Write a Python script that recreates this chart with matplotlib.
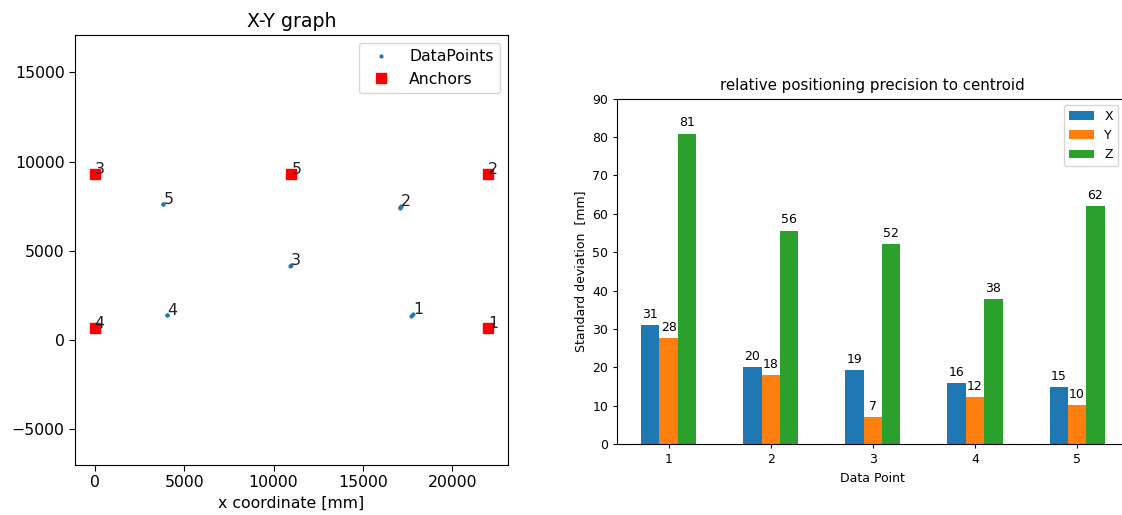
#X-Y positions of the tags and the anchors, plus the precision per data point
import matplotlib.pyplot as plt
import numpy as np

# anchor positions [mm]
anchor_ids = [1, 2, 3, 4, 5]
anchor_x = [22000, 22000, 0, 0, 11000]
anchor_y = [700, 9300, 9300, 700, 9300]

# measured tag positions [mm], a few samples per data point
point_ids = [1, 2, 3, 4, 5]
point_x = [[17700, 17760, 17800], [17040, 17090, 17130], [10930, 10950], [4040, 4060], [3820, 3840]]
point_y = [[1360, 1400, 1440], [7420, 7470, 7510], [4150, 4190], [1390, 1410], [7620, 7640]]

# standard deviation to centroid [mm]
groups = [1, 2, 3, 4, 5]
std_x = [30.9, 20.0, 19.2, 15.9, 14.8]
std_y = [27.6, 17.9, 7.1, 12.2, 10.2]
std_z = [80.9, 55.6, 52.2, 37.7, 62.1]

fig = plt.figure(figsize=(11.22, 5.15), dpi=100)

#left: X-Y graph
fs_l = 11.3
ax1 = fig.add_axes([0.0668, 0.0971, 0.3859, 0.835])
all_x = np.concatenate([np.array(v) for v in point_x])
all_y = np.concatenate([np.array(v) for v in point_y])
ax1.plot(all_x, all_y, '.', color='#1f77b4', markersize=4, label='DataPoints')
ax1.plot(anchor_x, anchor_y, 's', color='red', markersize=7.5, label='Anchors')
for i, px, py in zip(point_ids, point_x, point_y):
    ax1.annotate(str(i), (px[-1], py[-1]), fontsize=fs_l, color='#222222')
for i, ax_, ay_ in zip(anchor_ids, anchor_x, anchor_y):
    ax1.annotate(str(i), (ax_, ay_), fontsize=fs_l, color='#222222')
ax1.set_xlim(-1100, 23100)
ax1.set_ylim(-7000, 17100)
ax1.set_xticks([0, 5000, 10000, 15000, 20000])
ax1.set_yticks([-5000, 0, 5000, 10000, 15000])
ax1.tick_params(labelsize=fs_l, length=4)
ax1.set_title('X-Y graph', fontsize=13.6)
ax1.set_xlabel('x coordinate [mm]', fontsize=fs_l)
ax1.legend(loc='upper right', fontsize=fs_l)

#right: grouped bar chart
fs_r = 9
ax2 = fig.add_axes([0.5502, 0.1379, 0.455, 0.6705])
w = 0.18
pos = np.array(groups)
b1 = ax2.bar(pos - w, std_x, w, label='X')
b2 = ax2.bar(pos, std_y, w, label='Y')
b3 = ax2.bar(pos + w, std_z, w, label='Z')
for b in (b1, b2, b3):
    ax2.bar_label(b, fmt='%.0f', padding=3, fontsize=fs_r)
ax2.set_xticks(pos)
ax2.set_xlim(0.497, 5.497)
ax2.set_ylim(0, 90)
ax2.tick_params(labelsize=fs_r, length=3)
ax2.set_title('relative positioning precision to centroid', fontsize=10.8)
ax2.set_xlabel('Data Point', fontsize=fs_r)
ax2.set_ylabel('Standard deviation  [mm]', fontsize=fs_r)
ax2.legend(loc='upper right', fontsize=fs_r, bbox_to_anchor=(0.993, 1.0))

fig.savefig('out.png', dpi=100)
